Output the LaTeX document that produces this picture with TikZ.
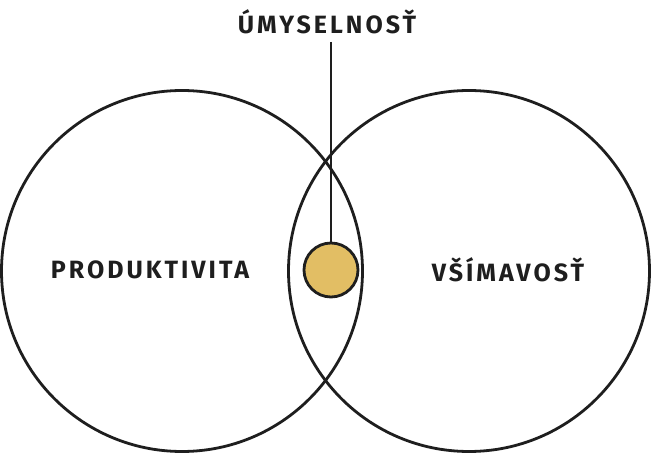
\documentclass[tikz,border=0pt]{standalone}
\usepackage{fontspec}
\setmainfont{Fira Sans}[LetterSpace=12]
\definecolor{gold}{RGB}{226,190,100}
\definecolor{ink}{RGB}{30,30,30}
\begin{document}
\begin{tikzpicture}[x=1pt,y=-1pt,
  ring/.style={draw=ink,line width=2.8pt,circle,minimum size=361pt,inner sep=0pt},
  core/.style={draw=ink,line width=2.8pt,circle,fill=gold,minimum size=54pt,inner sep=0pt},
  lbl/.style={text=ink,font=\fontsize{25}{25}\selectfont\bfseries,inner sep=0pt}]
\useasboundingbox (0,0) rectangle (651,454);
\node[ring] (left) at (182,271) {};
\node[ring] (right) at (469,271) {};
\node[core] (dot) at (331,270) {};
\coordinate (top) at (331,42);
\draw[ink,line width=2.8pt] (top) -- (dot.north);
\node[lbl] (t1) at (327,22) {ÚMYSELNOSŤ};
\node[lbl] (t2) at (150,270) {PRODUKTIVITA};
\node[lbl] (t3) at (508,270) {VŠÍMAVOSŤ};
\end{tikzpicture}
\end{document}
